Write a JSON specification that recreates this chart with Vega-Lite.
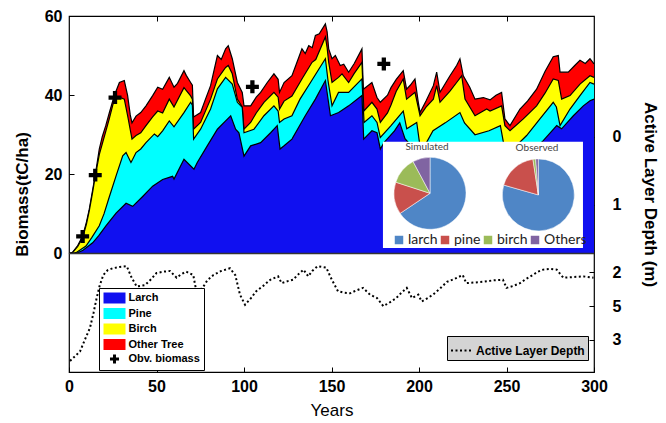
{
  "$schema": "https://vega.github.io/schema/vega-lite/v6.json",
  "width": 525,
  "height": 356,
  "autosize": {"type": "none"},
  "padding": {"left": 69, "top": 16, "right": 72, "bottom": 51},
  "background": "white",
  "config": {
    "font": "Liberation Sans",
    "view": {"stroke": "black", "strokeWidth": 1.2},
    "axis": {"domain": false, "grid": false, "labelFlush": false, "labelOverlap": false, "tickColor": "black", "tickSize": -5, "labelColor": "black", "titleColor": "black", "labelFontWeight": "bold", "labelFontSize": 16, "titleFontWeight": "bold", "titleFontSize": 17}
  },
  "datasets": {
    "total": [
      {"year":0,"biomass":0},{"year":2,"biomass":0.3},{"year":5,"biomass":2},{"year":7.8,"biomass":4.4},{"year":10,"biomass":8},{"year":11.6,"biomass":11.2},{"year":13.5,"biomass":16},{"year":15,"biomass":19.8},{"year":17.3,"biomass":26.4},{"year":19,"biomass":29.5},{"year":21,"biomass":32.3},{"year":23,"biomass":35.5},{"year":25.9,"biomass":39.9},{"year":28.8,"biomass":43.2},{"year":31.6,"biomass":43.7},{"year":33.5,"biomass":39.9},{"year":35,"biomass":35},{"year":36,"biomass":33},{"year":38.3,"biomass":34.7},{"year":41,"biomass":35.6},{"year":44,"biomass":37.3},{"year":47.8,"biomass":39.9},{"year":50.7,"biomass":42},{"year":53.5,"biomass":41.5},{"year":57.3,"biomass":44.5},{"year":60,"biomass":42},{"year":62,"biomass":43},{"year":65.7,"biomass":46.2},{"year":67,"biomass":45},{"year":69.5,"biomass":43.2},{"year":70.5,"biomass":42.5},{"year":71.2,"biomass":34.5},{"year":75.2,"biomass":35.6},{"year":78,"biomass":39},{"year":80.9,"biomass":42.4},{"year":84.8,"biomass":50},{"year":87,"biomass":49},{"year":89.5,"biomass":51.7},{"year":91,"biomass":52.5},{"year":93.3,"biomass":49.2},{"year":96.2,"biomass":43.2},{"year":99,"biomass":40.7},{"year":100,"biomass":37.3},{"year":103.8,"biomass":37.3},{"year":107,"biomass":39.5},{"year":109.5,"biomass":40.7},{"year":113.3,"biomass":43.2},{"year":117.1,"biomass":45.4},{"year":119.5,"biomass":44},{"year":120.3,"biomass":40.7},{"year":122.9,"biomass":43.2},{"year":127.4,"biomass":44.9},{"year":130,"biomass":48},{"year":133.1,"biomass":51.7},{"year":135,"biomass":50.5},{"year":137,"biomass":52.5},{"year":139,"biomass":52},{"year":140.8,"biomass":55.1},{"year":143,"biomass":55.5},{"year":146.5,"biomass":58},{"year":147.5,"biomass":56},{"year":148.4,"biomass":51.7},{"year":150.3,"biomass":49.2},{"year":152.2,"biomass":50},{"year":155,"biomass":47.5},{"year":157,"biomass":47.8},{"year":159.8,"biomass":45.8},{"year":163,"biomass":48},{"year":167.4,"biomass":51.7},{"year":168.2,"biomass":41.5},{"year":173.1,"biomass":43.2},{"year":176,"biomass":39.4},{"year":177.9,"biomass":38.2},{"year":182,"biomass":40},{"year":184,"biomass":41.9},{"year":187,"biomass":44},{"year":191,"biomass":46.2},{"year":192.9,"biomass":41.5},{"year":195,"biomass":42.5},{"year":197.7,"biomass":44.1},{"year":199.6,"biomass":38.2},{"year":200.6,"biomass":35.6},{"year":204,"biomass":38.5},{"year":208.2,"biomass":42.4},{"year":210.1,"biomass":45.8},{"year":212,"biomass":40.7},{"year":217.7,"biomass":44.9},{"year":221.5,"biomass":47.5},{"year":223.4,"biomass":49.2},{"year":225.3,"biomass":44.9},{"year":229,"biomass":42},{"year":232,"biomass":39},{"year":236.8,"biomass":39.4},{"year":240.6,"biomass":38.8},{"year":244,"biomass":40},{"year":247.2,"biomass":40.7},{"year":249.1,"biomass":34},{"year":252,"biomass":32.3},{"year":257.7,"biomass":36.5},{"year":262,"biomass":38.5},{"year":267.2,"biomass":41.5},{"year":272,"biomass":46},{"year":276.7,"biomass":49.7},{"year":279.6,"biomass":50},{"year":280.6,"biomass":45.8},{"year":285.3,"biomass":45.8},{"year":289,"biomass":47.5},{"year":292,"biomass":48.8},{"year":295,"biomass":48},{"year":297.7,"biomass":49.2},{"year":300,"biomass":47.9}
    ],
    "birch": [
      {"year":0,"biomass":0},{"year":2,"biomass":0.2},{"year":5,"biomass":1.8},{"year":7.8,"biomass":4},{"year":10,"biomass":7.5},{"year":11.6,"biomass":10.8},{"year":13.5,"biomass":15.5},{"year":15,"biomass":19.5},{"year":17.3,"biomass":25},{"year":21.1,"biomass":31},{"year":23,"biomass":34},{"year":25.9,"biomass":39},{"year":28.8,"biomass":39.5},{"year":31.6,"biomass":39},{"year":33.5,"biomass":34.8},{"year":36,"biomass":28.9},{"year":38.3,"biomass":29.8},{"year":41,"biomass":30.5},{"year":44,"biomass":32.3},{"year":47.8,"biomass":34.5},{"year":50.7,"biomass":36},{"year":53.5,"biomass":35.5},{"year":57.3,"biomass":39},{"year":60,"biomass":37},{"year":65.7,"biomass":41.9},{"year":69.5,"biomass":39.8},{"year":70.5,"biomass":39},{"year":71.2,"biomass":31.4},{"year":75.2,"biomass":33.1},{"year":80.9,"biomass":39},{"year":84.8,"biomass":44.1},{"year":89.5,"biomass":47},{"year":91,"biomass":47.5},{"year":93.3,"biomass":45.4},{"year":96.2,"biomass":39},{"year":99,"biomass":37},{"year":100,"biomass":31.4},{"year":103.8,"biomass":33.1},{"year":107,"biomass":35.5},{"year":111.4,"biomass":38.2},{"year":117.1,"biomass":40.7},{"year":119.5,"biomass":39.5},{"year":120.3,"biomass":36.5},{"year":122.9,"biomass":38.5},{"year":127.4,"biomass":39.8},{"year":133.1,"biomass":44.1},{"year":138.9,"biomass":48.3},{"year":141,"biomass":49},{"year":146.5,"biomass":54.7},{"year":147.5,"biomass":52},{"year":148.4,"biomass":48.3},{"year":150.3,"biomass":43.2},{"year":154,"biomass":44.5},{"year":156,"biomass":45.4},{"year":159.8,"biomass":43.2},{"year":163,"biomass":45.5},{"year":167.4,"biomass":48.3},{"year":168.5,"biomass":36},{"year":173.1,"biomass":38.2},{"year":176,"biomass":36.5},{"year":177.9,"biomass":33.1},{"year":182,"biomass":35.5},{"year":184,"biomass":37.5},{"year":187,"biomass":41},{"year":191,"biomass":44.1},{"year":192.9,"biomass":39},{"year":197.7,"biomass":40.7},{"year":200.6,"biomass":34.8},{"year":204,"biomass":37},{"year":208.2,"biomass":39},{"year":210.1,"biomass":42.4},{"year":212,"biomass":38.2},{"year":217.7,"biomass":41},{"year":221.5,"biomass":43.2},{"year":224.4,"biomass":44.9},{"year":226.3,"biomass":39},{"year":232,"biomass":34.8},{"year":238.7,"biomass":36.5},{"year":240.6,"biomass":36},{"year":247.2,"biomass":37.3},{"year":249.1,"biomass":32.3},{"year":252,"biomass":31},{"year":259.6,"biomass":34},{"year":267.2,"biomass":37.3},{"year":272,"biomass":40.5},{"year":276.7,"biomass":44.1},{"year":279.6,"biomass":43.7},{"year":281.5,"biomass":39},{"year":286.3,"biomass":39.9},{"year":292,"biomass":42.8},{"year":297.7,"biomass":44.9},{"year":300,"biomass":44.5}
    ],
    "pine": [
      {"year":0,"biomass":0},{"year":4,"biomass":0.2},{"year":9.7,"biomass":1.9},{"year":13,"biomass":4},{"year":17.3,"biomass":7},{"year":20,"biomass":10},{"year":23.1,"biomass":14.4},{"year":26.9,"biomass":19.6},{"year":30.7,"biomass":24.7},{"year":32.6,"biomass":25.5},{"year":35.4,"biomass":23},{"year":36.4,"biomass":23.8},{"year":38.3,"biomass":25.5},{"year":41,"biomass":26.4},{"year":44,"biomass":28},{"year":48.8,"biomass":30.2},{"year":50.7,"biomass":29.5},{"year":53.5,"biomass":31},{"year":57.3,"biomass":33.5},{"year":60,"biomass":32},{"year":65.7,"biomass":35.6},{"year":69.5,"biomass":38.2},{"year":70.5,"biomass":37.5},{"year":71.2,"biomass":28.9},{"year":75.2,"biomass":31.4},{"year":80.9,"biomass":36.5},{"year":84.8,"biomass":41.6},{"year":89.5,"biomass":44.5},{"year":93.3,"biomass":42.8},{"year":96.2,"biomass":38.2},{"year":99,"biomass":36.9},{"year":100,"biomass":30.5},{"year":105.7,"biomass":31.4},{"year":111.4,"biomass":34.8},{"year":117.1,"biomass":37.3},{"year":119.5,"biomass":36},{"year":120.3,"biomass":33.1},{"year":122.9,"biomass":34},{"year":127.4,"biomass":34.8},{"year":132,"biomass":39},{"year":138,"biomass":43.2},{"year":146.5,"biomass":49.2},{"year":148,"biomass":43.7},{"year":150.3,"biomass":37.3},{"year":154,"biomass":40.7},{"year":159.8,"biomass":40.7},{"year":167.4,"biomass":44.1},{"year":168.6,"biomass":33.1},{"year":173.1,"biomass":34.8},{"year":176,"biomass":33.1},{"year":177.9,"biomass":29.3},{"year":184,"biomass":32.3},{"year":191,"biomass":36},{"year":193,"biomass":31.5},{"year":198.7,"biomass":33.1},{"year":200.6,"biomass":27},{"year":203,"biomass":27},{"year":208,"biomass":31},{"year":215,"biomass":33},{"year":223.4,"biomass":35.6},{"year":226,"biomass":33},{"year":232,"biomass":30},{"year":240,"biomass":31},{"year":246.5,"biomass":32.3},{"year":249.1,"biomass":26},{"year":255,"biomass":27},{"year":261.5,"biomass":29.8},{"year":269.1,"biomass":34},{"year":276.7,"biomass":38.2},{"year":278.5,"biomass":37},{"year":280.6,"biomass":32.3},{"year":286.3,"biomass":36.5},{"year":292,"biomass":39.9},{"year":297.7,"biomass":43.2},{"year":300,"biomass":42.8}
    ],
    "larch": [
      {"year":0,"biomass":0},{"year":4,"biomass":0},{"year":8,"biomass":0.8},{"year":13.5,"biomass":2.7},{"year":17,"biomass":4.5},{"year":21.1,"biomass":7},{"year":26.9,"biomass":10.2},{"year":32.6,"biomass":12.7},{"year":36.4,"biomass":11.9},{"year":42.1,"biomass":14.4},{"year":47.8,"biomass":17},{"year":53.5,"biomass":18.7},{"year":59.2,"biomass":19.5},{"year":60,"biomass":18.8},{"year":65.7,"biomass":23.8},{"year":71.4,"biomass":21.3},{"year":73.3,"biomass":23},{"year":79,"biomass":27.2},{"year":84.8,"biomass":31.4},{"year":89.5,"biomass":33.5},{"year":92.4,"biomass":34.8},{"year":95.2,"biomass":31.4},{"year":97.1,"biomass":30.5},{"year":100,"biomass":24.6},{"year":103.8,"biomass":27.2},{"year":109.5,"biomass":28},{"year":115.2,"biomass":30.5},{"year":119,"biomass":32.3},{"year":120.6,"biomass":26.4},{"year":122.9,"biomass":27.2},{"year":127.4,"biomass":28.9},{"year":135,"biomass":34.8},{"year":140.8,"biomass":39},{"year":146.5,"biomass":43.7},{"year":149.4,"biomass":34.8},{"year":154.1,"biomass":35.6},{"year":159.8,"biomass":37.3},{"year":167.4,"biomass":39.9},{"year":168.4,"biomass":28.9},{"year":173.1,"biomass":31},{"year":176,"biomass":30.5},{"year":177.9,"biomass":26.4},{"year":180,"biomass":28},{"year":186,"biomass":31},{"year":189,"biomass":33},{"year":192,"biomass":29},{"year":200,"biomass":25},{"year":210,"biomass":24},{"year":220,"biomass":24},{"year":230,"biomass":22},{"year":240,"biomass":22},{"year":250,"biomass":21},{"year":258,"biomass":22},{"year":265,"biomass":26},{"year":271,"biomass":28.5},{"year":278.7,"biomass":32.3},{"year":281.5,"biomass":31.5},{"year":288.2,"biomass":34.8},{"year":293.9,"biomass":37.3},{"year":297.7,"biomass":38.6},{"year":300,"biomass":39}
    ],
    "obs": [
      {"year":7.8,"biomass":4.3,"kind":"Obv. biomass"},{"year":15,"biomass":19.8,"kind":"Obv. biomass"},{"year":26.3,"biomass":39.4,"kind":"Obv. biomass"},{"year":104.8,"biomass":42.1,"kind":"Obv. biomass"},{"year":179.9,"biomass":47.9,"kind":"Obv. biomass"}
    ],
    "simpie": [
      {"species":"larch","pct":65.6},{"species":"pine","pct":14.4},{"species":"birch","pct":12.2},{"species":"Others","pct":7.8}
    ],
    "obspie": [
      {"species":"larch","pct":79.4},{"species":"pine","pct":18.2},{"species":"birch","pct":1.2},{"species":"Others","pct":1.2}
    ],
    "ald": [
      {"year":0.6,"depth":3.31,"series":"Active Layer Depth"},{"year":3,"depth":3.25,"series":"Active Layer Depth"},{"year":6.3,"depth":3.17,"series":"Active Layer Depth"},{"year":9,"depth":3.0,"series":"Active Layer Depth"},{"year":12,"depth":2.82,"series":"Active Layer Depth"},{"year":14,"depth":2.6,"series":"Active Layer Depth"},{"year":15.8,"depth":2.38,"series":"Active Layer Depth"},{"year":17.5,"depth":2.2,"series":"Active Layer Depth"},{"year":19.6,"depth":2.04,"series":"Active Layer Depth"},{"year":22,"depth":1.97,"series":"Active Layer Depth"},{"year":25,"depth":1.94,"series":"Active Layer Depth"},{"year":29,"depth":1.92,"series":"Active Layer Depth"},{"year":33,"depth":1.91,"series":"Active Layer Depth"},{"year":35.8,"depth":2.08,"series":"Active Layer Depth"},{"year":38.7,"depth":2.21,"series":"Active Layer Depth"},{"year":41,"depth":2.2,"series":"Active Layer Depth"},{"year":43.4,"depth":2.19,"series":"Active Layer Depth"},{"year":47,"depth":2.1,"series":"Active Layer Depth"},{"year":50,"depth":2.01,"series":"Active Layer Depth"},{"year":54,"depth":1.99,"series":"Active Layer Depth"},{"year":57.7,"depth":1.98,"series":"Active Layer Depth"},{"year":61.5,"depth":2.08,"series":"Active Layer Depth"},{"year":64,"depth":2.03,"series":"Active Layer Depth"},{"year":67,"depth":1.99,"series":"Active Layer Depth"},{"year":71,"depth":2.04,"series":"Active Layer Depth"},{"year":73,"depth":2.31,"series":"Active Layer Depth"},{"year":76.8,"depth":2.21,"series":"Active Layer Depth"},{"year":79,"depth":2.12,"series":"Active Layer Depth"},{"year":82.5,"depth":2.04,"series":"Active Layer Depth"},{"year":87,"depth":1.98,"series":"Active Layer Depth"},{"year":92,"depth":1.94,"series":"Active Layer Depth"},{"year":95,"depth":2.04,"series":"Active Layer Depth"},{"year":97.7,"depth":2.33,"series":"Active Layer Depth"},{"year":100.6,"depth":2.48,"series":"Active Layer Depth"},{"year":104,"depth":2.38,"series":"Active Layer Depth"},{"year":107,"depth":2.28,"series":"Active Layer Depth"},{"year":111,"depth":2.2,"series":"Active Layer Depth"},{"year":115,"depth":2.11,"series":"Active Layer Depth"},{"year":119.5,"depth":2.06,"series":"Active Layer Depth"},{"year":121.5,"depth":2.16,"series":"Active Layer Depth"},{"year":125,"depth":2.13,"series":"Active Layer Depth"},{"year":128,"depth":2.11,"series":"Active Layer Depth"},{"year":131,"depth":2.03,"series":"Active Layer Depth"},{"year":134,"depth":1.96,"series":"Active Layer Depth"},{"year":136.7,"depth":2.06,"series":"Active Layer Depth"},{"year":139,"depth":1.98,"series":"Active Layer Depth"},{"year":142,"depth":1.91,"series":"Active Layer Depth"},{"year":147,"depth":1.93,"series":"Active Layer Depth"},{"year":150,"depth":2.1,"series":"Active Layer Depth"},{"year":153.7,"depth":2.28,"series":"Active Layer Depth"},{"year":157,"depth":2.3,"series":"Active Layer Depth"},{"year":160.6,"depth":2.31,"series":"Active Layer Depth"},{"year":164,"depth":2.27,"series":"Active Layer Depth"},{"year":168,"depth":2.23,"series":"Active Layer Depth"},{"year":172,"depth":2.33,"series":"Active Layer Depth"},{"year":176,"depth":2.38,"series":"Active Layer Depth"},{"year":179.6,"depth":2.5,"series":"Active Layer Depth"},{"year":183,"depth":2.45,"series":"Active Layer Depth"},{"year":187,"depth":2.38,"series":"Active Layer Depth"},{"year":190,"depth":2.3,"series":"Active Layer Depth"},{"year":193,"depth":2.23,"series":"Active Layer Depth"},{"year":196,"depth":2.38,"series":"Active Layer Depth"},{"year":199.6,"depth":2.33,"series":"Active Layer Depth"},{"year":201.5,"depth":2.43,"series":"Active Layer Depth"},{"year":205,"depth":2.38,"series":"Active Layer Depth"},{"year":208,"depth":2.33,"series":"Active Layer Depth"},{"year":212,"depth":2.24,"series":"Active Layer Depth"},{"year":216,"depth":2.14,"series":"Active Layer Depth"},{"year":220,"depth":2.1,"series":"Active Layer Depth"},{"year":225,"depth":2.04,"series":"Active Layer Depth"},{"year":227,"depth":2.16,"series":"Active Layer Depth"},{"year":232,"depth":2.15,"series":"Active Layer Depth"},{"year":236.6,"depth":2.14,"series":"Active Layer Depth"},{"year":242,"depth":2.12,"series":"Active Layer Depth"},{"year":248,"depth":2.11,"series":"Active Layer Depth"},{"year":250,"depth":2.23,"series":"Active Layer Depth"},{"year":254,"depth":2.2,"series":"Active Layer Depth"},{"year":257.7,"depth":2.16,"series":"Active Layer Depth"},{"year":261,"depth":2.1,"series":"Active Layer Depth"},{"year":265,"depth":2.04,"series":"Active Layer Depth"},{"year":268,"depth":1.99,"series":"Active Layer Depth"},{"year":271,"depth":1.96,"series":"Active Layer Depth"},{"year":275,"depth":1.95,"series":"Active Layer Depth"},{"year":278.7,"depth":1.96,"series":"Active Layer Depth"},{"year":282.5,"depth":2.08,"series":"Active Layer Depth"},{"year":288,"depth":2.07,"series":"Active Layer Depth"},{"year":294,"depth":2.06,"series":"Active Layer Depth"},{"year":299.7,"depth":2.08,"series":"Active Layer Depth"}
    ]
  },
  "layer": [
    {
      "data": {"name": "total"},
      "mark": {"type": "area", "color": "#ff0000", "opacity": 1, "line": {"color": "black", "strokeWidth": 1.2}},
      "encoding": {
        "x": {"field": "year", "type": "quantitative", "scale": {"domain": [0, 300], "nice": false, "zero": false}, "axis": null},
        "y": {"field": "biomass", "type": "quantitative", "scale": {"domain": [-29.94, 60], "nice": false, "zero": false}, "axis": null},
        "y2": {"datum": 0}
      }
    },
    {
      "data": {"name": "birch"},
      "mark": {"type": "area", "color": "#ffff00", "opacity": 1, "line": {"color": "black", "strokeWidth": 1.2}},
      "encoding": {
        "x": {"field": "year", "type": "quantitative", "axis": null},
        "y": {"field": "biomass", "type": "quantitative", "scale": {"domain": [-29.94, 60], "nice": false, "zero": false}, "axis": null},
        "y2": {"datum": 0}
      }
    },
    {
      "data": {"name": "pine"},
      "mark": {"type": "area", "color": "#00ffff", "opacity": 1, "line": {"color": "black", "strokeWidth": 1.2}},
      "encoding": {
        "x": {"field": "year", "type": "quantitative", "axis": null},
        "y": {"field": "biomass", "type": "quantitative", "scale": {"domain": [-29.94, 60], "nice": false, "zero": false}, "axis": null},
        "y2": {"datum": 0}
      }
    },
    {
      "data": {"name": "larch"},
      "mark": {"type": "area", "color": "#1010f0", "opacity": 1, "line": {"color": "black", "strokeWidth": 1.2}},
      "encoding": {
        "x": {"field": "year", "type": "quantitative", "axis": null},
        "y": {"field": "biomass", "type": "quantitative", "scale": {"domain": [-29.94, 60], "nice": false, "zero": false}, "axis": null},
        "y2": {"datum": 0}
      }
    },
    {
      "data": {"values": [{}]},
      "mark": {"type": "rule", "color": "#333333", "strokeWidth": 1.5},
      "encoding": {"y": {"datum": 0, "type": "quantitative", "scale": {"domain": [-29.94, 60], "nice": false, "zero": false}, "axis": null}}
    },
    {
      "data": {"values": [{}]},
      "mark": {"type": "rect", "fill": "white"},
      "encoding": {
        "x": {"datum": 179.4, "type": "quantitative", "axis": null},
        "x2": {"datum": 293.7},
        "y": {"datum": 28.2, "type": "quantitative", "scale": {"domain": [-29.94, 60], "nice": false, "zero": false}, "axis": null},
        "y2": {"datum": 1.4}
      }
    },
    {
      "layer": [
        {
          "data": {"name": "simpie"},
          "transform": [{"window": [{"op": "row_number", "as": "k"}]}],
          "mark": {"type": "arc", "outerRadius": 36, "stroke": "white", "strokeWidth": 0.5},
          "encoding": {
            "x": {"datum": 206.3, "type": "quantitative", "axis": null},
            "y": {"datum": 15.2, "type": "quantitative", "scale": {"domain": [-29.94, 60], "nice": false, "zero": false}, "axis": null},
            "theta": {"field": "pct", "type": "quantitative", "stack": true},
            "order": {"field": "k", "type": "quantitative"},
            "color": {"field": "species", "type": "nominal",
              "scale": {"domain": ["larch", "pine", "birch", "Others"], "range": ["#4f86c6", "#c9504c", "#9bbb59", "#8064a2"]},
              "legend": {"orient": "none", "legendX": 323, "legendY": 217, "direction": "horizontal", "title": null, "symbolType": "square", "symbolSize": 72, "symbolStrokeWidth": 0, "labelFont": "Lato", "labelFontSize": 14, "labelColor": "#222222", "columnPadding": 0, "labelOffset": 2, "padding": 0}}
          }
        },
        {
          "data": {"name": "obspie"},
          "transform": [{"window": [{"op": "row_number", "as": "k"}]}],
          "mark": {"type": "arc", "outerRadius": 36, "stroke": "white", "strokeWidth": 0.5},
          "encoding": {
            "x": {"datum": 268.2, "type": "quantitative", "axis": null},
            "y": {"datum": 14.8, "type": "quantitative", "axis": null},
            "theta": {"field": "pct", "type": "quantitative", "stack": true},
            "order": {"field": "k", "type": "quantitative"},
            "color": {"field": "species", "type": "nominal",
              "scale": {"domain": ["larch", "pine", "birch", "Others"], "range": ["#4f86c6", "#c9504c", "#9bbb59", "#8064a2"]},
              "legend": {"orient": "none", "legendX": 323, "legendY": 217, "direction": "horizontal", "title": null, "symbolType": "square", "symbolSize": 72, "symbolStrokeWidth": 0, "labelFont": "Lato", "labelFontSize": 14, "labelColor": "#222222", "columnPadding": 0, "labelOffset": 2, "padding": 0}}
          }
        }
      ]
    },
    {
      "data": {"values": [{}]},
      "mark": {"type": "text", "font": "Lato", "fontSize": 10, "color": "#444444"},
      "encoding": {
        "x": {"datum": 204.6, "type": "quantitative", "axis": null},
        "y": {"datum": 26.9, "type": "quantitative", "scale": {"domain": [-29.94, 60], "nice": false, "zero": false}, "axis": null},
        "text": {"value": "Simulated"}
      }
    },
    {
      "data": {"values": [{}]},
      "mark": {"type": "text", "font": "Lato", "fontSize": 10, "color": "#444444"},
      "encoding": {
        "x": {"datum": 267.4, "type": "quantitative", "axis": null},
        "y": {"datum": 26.7, "type": "quantitative", "scale": {"domain": [-29.94, 60], "nice": false, "zero": false}, "axis": null},
        "text": {"value": "Observed"}
      }
    },
    {
      "data": {"name": "obs"},
      "mark": {"type": "point", "filled": true, "opacity": 1, "size": 250},
      "encoding": {
        "x": {"field": "year", "type": "quantitative",
          "axis": {"orient": "bottom", "values": [0, 50, 100, 150, 200, 250, 300], "title": "Years", "titleFontWeight": "normal", "titleFontSize": 17, "labelPadding": 11, "titlePadding": 8}},
        "y": {"field": "biomass", "type": "quantitative", "scale": {"domain": [-29.94, 60], "nice": false, "zero": false},
          "axis": {"orient": "left", "values": [0, 20, 40, 60], "title": "Biomass(tC/ha)", "labelPadding": 12, "titlePadding": 13}},
        "color": {"field": "kind", "type": "nominal",
          "scale": {"domain": ["Larch", "Pine", "Birch", "Other Tree", "Obv. biomass"], "range": ["#1010f0", "#00ffff", "#ffff00", "#ff0000", "#000000"]},
          "legend": {"orient": "none", "legendX": 30, "legendY": 272, "title": null, "fillColor": "white", "strokeColor": "black", "padding": 4, "symbolSize": 121, "symbolStrokeColor": "black", "symbolStrokeWidth": 1, "symbolOffset": 5.5, "labelOffset": 8, "rowPadding": -0.5, "labelFont": "Liberation Sans", "labelFontWeight": "bold", "labelFontSize": 11, "labelColor": "black", "symbolOpacity": 1}},
        "shape": {"field": "kind", "type": "nominal",
          "scale": {"domain": ["Larch", "Pine", "Birch", "Other Tree", "Obv. biomass"], "range": ["M-2,-1H2V1H-2Z", "M-2,-1H2V1H-2Z", "M-2,-1H2V1H-2Z", "M-2,-1H2V1H-2Z", "M-0.27,-0.82H0.27V-0.27H0.82V0.27H0.27V0.82H-0.27V0.27H-0.82V-0.27H-0.27Z"]},
          "legend": {"orient": "none", "legendX": 30, "legendY": 272, "title": null, "fillColor": "white", "strokeColor": "black", "padding": 4, "symbolSize": 121, "symbolStrokeColor": "black", "symbolStrokeWidth": 1, "symbolOffset": 5.5, "labelOffset": 8, "rowPadding": -0.5, "labelFont": "Liberation Sans", "labelFontWeight": "bold", "labelFontSize": 11, "labelColor": "black", "symbolOpacity": 1}}
      }
    },
    {
      "data": {"name": "ald"},
      "mark": {"type": "line", "color": "black", "strokeWidth": 2},
      "encoding": {
        "x": {"field": "year", "type": "quantitative",
          "axis": {"orient": "top", "values": [50, 100, 150, 200, 250], "labels": false, "title": null}},
        "y": {"field": "depth", "type": "quantitative", "scale": {"domain": [-1.788, 3.473], "reverse": true, "nice": false, "zero": false},
          "axis": {"orient": "right", "values": [0, 1, 2, 2.5, 3], "labelExpr": "datum.value == 2.5 ? '5' : datum.label", "title": "Active Layer Depth (m)", "labelPadding": 23, "titlePadding": 20}},
        "strokeDash": {"field": "series", "type": "nominal",
          "scale": {"domain": ["Active Layer Depth"], "range": [[2, 2.5]]},
          "legend": {"orient": "none", "legendX": 378, "legendY": 320, "title": null, "fillColor": "#d4d4d4", "strokeColor": "black", "padding": 3, "symbolType": "stroke", "symbolSize": 441, "symbolStrokeWidth": 2, "symbolStrokeColor": "black", "labelFont": "Liberation Sans", "labelFontWeight": "bold", "labelFontSize": 12, "labelColor": "black", "labelOffset": 3}}
      }
    }
  ],
  "resolve": {"scale": {"y": "independent", "color": "independent", "shape": "independent"}, "axis": {"x": "independent"}}
}
